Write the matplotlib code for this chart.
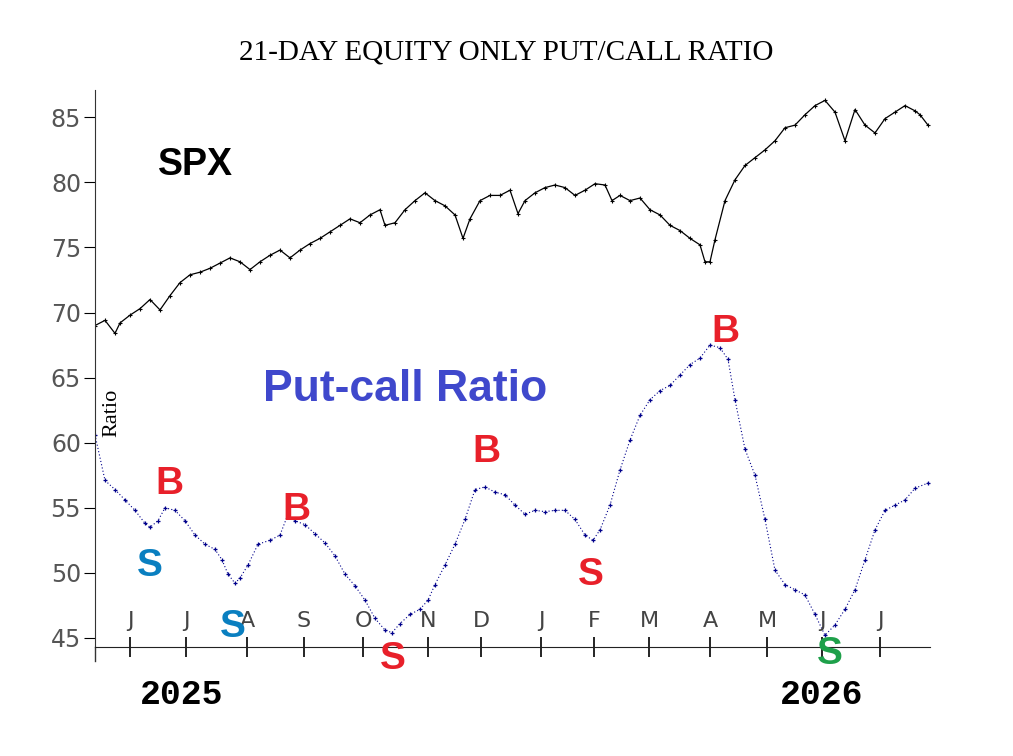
import matplotlib
matplotlib.use("Agg")
import matplotlib.pyplot as plt

# x positions on a chart-time scale (roughly 57 units per month)
spxPos = [95, 105, 115, 120, 130, 140, 150, 160, 170, 180, 190, 200, 210, 220, 230, 240, 250, 260, 270, 280,
          290, 300, 310, 320, 330, 340, 350, 360, 370, 380, 385, 395, 405, 415, 425, 435, 445, 455, 463, 470,
          480, 490, 500, 510, 518, 525, 535, 545, 555, 565, 575, 585, 595, 605, 612, 620, 630, 640, 650, 660,
          670, 680, 690, 700, 705, 710, 715, 725, 735, 745, 755, 765, 775, 785, 795, 805, 815, 825, 835, 845,
          855, 865, 875, 885, 895, 905, 915, 920, 928]
spxVal = [69.0, 69.4, 68.4, 69.2, 69.8, 70.3, 71.0, 70.2, 71.3, 72.3, 72.9, 73.1, 73.4, 73.8, 74.2, 73.9, 73.3, 73.9, 74.4, 74.8,
          74.2, 74.8, 75.3, 75.7, 76.2, 76.7, 77.2, 76.9, 77.5, 77.9, 76.7, 76.9, 77.9, 78.6, 79.2, 78.6, 78.2, 77.5, 75.7, 77.2,
          78.6, 79.0, 79.0, 79.4, 77.6, 78.6, 79.2, 79.6, 79.8, 79.6, 79.0, 79.4, 79.9, 79.8, 78.6, 79.0, 78.6, 78.8, 77.9, 77.5,
          76.7, 76.3, 75.7, 75.2, 73.9, 73.9, 75.6, 78.6, 80.2, 81.3, 81.9, 82.5, 83.2, 84.2, 84.4, 85.2, 85.9, 86.3, 85.4, 83.2,
          85.6, 84.4, 83.8, 84.9, 85.4, 85.9, 85.5, 85.2, 84.4]

pcPos = [95, 105, 115, 125, 135, 145, 150, 158, 165, 175, 185, 195, 205, 215, 222, 228, 235, 240, 248, 258,
         270, 280, 288, 295, 305, 315, 325, 335, 345, 355, 365, 375, 385, 392, 400, 410, 420, 428, 435, 445,
         455, 465, 475, 485, 495, 505, 515, 525, 535, 545, 555, 565, 575, 585, 593, 600, 610, 620, 630, 640,
         650, 660, 670, 680, 690, 700, 710, 720, 728, 735, 745, 755, 765, 775, 785, 795, 805, 815, 825, 835,
         845, 855, 865, 875, 885, 895, 905, 915, 928]
pcVal = [60.6, 57.1, 56.4, 55.6, 54.8, 53.8, 53.5, 54.0, 55.0, 54.8, 54.0, 52.9, 52.2, 51.8, 51.0, 49.9, 49.2, 49.6, 50.6, 52.2,
         52.5, 52.9, 54.5, 54.0, 53.7, 53.0, 52.3, 51.3, 49.9, 49.0, 47.9, 46.5, 45.6, 45.4, 46.1, 46.8, 47.2, 47.9, 49.1, 50.6,
         52.2, 54.1, 56.4, 56.6, 56.2, 56.0, 55.2, 54.5, 54.8, 54.7, 54.8, 54.8, 54.1, 52.9, 52.5, 53.3, 55.2, 57.9, 60.2, 62.1,
         63.3, 64.0, 64.4, 65.2, 66.0, 66.5, 67.5, 67.3, 66.4, 63.3, 59.5, 57.5, 54.1, 50.2, 49.1, 48.7, 48.3, 46.8, 45.2, 46.0,
         47.2, 48.7, 51.0, 53.3, 54.8, 55.2, 55.6, 56.5, 56.9]

monthPos = [130, 186, 247, 304, 363, 428, 481, 541, 594, 649, 710, 767, 822, 880]
monthLbl = ["J", "J", "A", "S", "O", "N", "D", "J", "F", "M", "A", "M", "J", "J"]

# signal letters: (label, x, y, colour)
signals = [("B", 169, 56.8, "#e8202a"), ("S", 150, 50.5, "#0a7fc0"), ("S", 233, 45.8, "#0a7fc0"),
           ("B", 296, 54.8, "#e8202a"), ("S", 393, 43.4, "#e8202a"), ("B", 486, 59.3, "#e8202a"),
           ("S", 591, 49.8, "#e8202a"), ("B", 725, 68.5, "#e8202a"), ("S", 830, 43.8, "#1ea04a")]

fig = plt.figure(figsize=(10.13, 7.56), dpi=100)
ax = fig.add_axes([95 / 1013, 109 / 756, 835 / 1013, 557 / 756])
ax.set_xlim(95, 930)
ax.set_ylim(44.3, 87.1)

ax.plot(spxPos, spxVal, color="black", lw=0.9, marker="+", ms=3, mew=0.8)
ax.plot(pcPos, pcVal, color="#00008b", lw=0.8, ls=(0, (1, 2)), marker="+", ms=3.5, mew=0.9)

for s in ["top", "right"]:
    ax.spines[s].set_visible(False)
ax.spines["left"].set_color("#333333")
ax.spines["bottom"].set_color("#222222")
ax.set_yticks([45, 50, 55, 60, 65, 70, 75, 80, 85])
ax.tick_params(axis="y", direction="out", length=8, labelsize=17, labelcolor="#555555", pad=2)
ax.set_xticks(monthPos)
ax.set_xticklabels([])
ax.tick_params(axis="x", direction="inout", length=14, width=1.2)
for lbl, xp in zip(monthLbl, monthPos):
    ax.text(xp, 46.3, lbl, ha="center", va="center", fontsize=16, color="#444444")

ax.plot([95, 95], [44.3, 43.2], color="#333333", lw=1, clip_on=False)

fig.text(0.5, 0.93, "21-DAY EQUITY ONLY PUT/CALL RATIO", ha="center", va="center",
         fontsize=21, family="Liberation Serif")
ax.text(158, 80.6, "SPX", fontsize=27, fontweight="bold", family="Liberation Sans")
ax.text(263, 63.2, "Put-call Ratio", fontsize=32, fontweight="bold", color="#3f48cc", family="Liberation Sans")
ax.text(102, 62.3, "Ratio", rotation=90, fontsize=16, family="Liberation Serif", ha="left", va="center")
for lbl, xp, yp, c in signals:
    ax.text(xp, yp, lbl, ha="center", va="center", fontsize=28, fontweight="bold", color=c,
            family="Liberation Sans", clip_on=False)

fig.text(182 / 1013, 1 - 695 / 756, "2025", ha="center", va="center", fontsize=25, fontweight="bold",
         family="Liberation Mono")
fig.text(822 / 1013, 1 - 695 / 756, "2026", ha="center", va="center", fontsize=25, fontweight="bold",
         family="Liberation Mono")

fig.savefig("out.png", dpi=100)
